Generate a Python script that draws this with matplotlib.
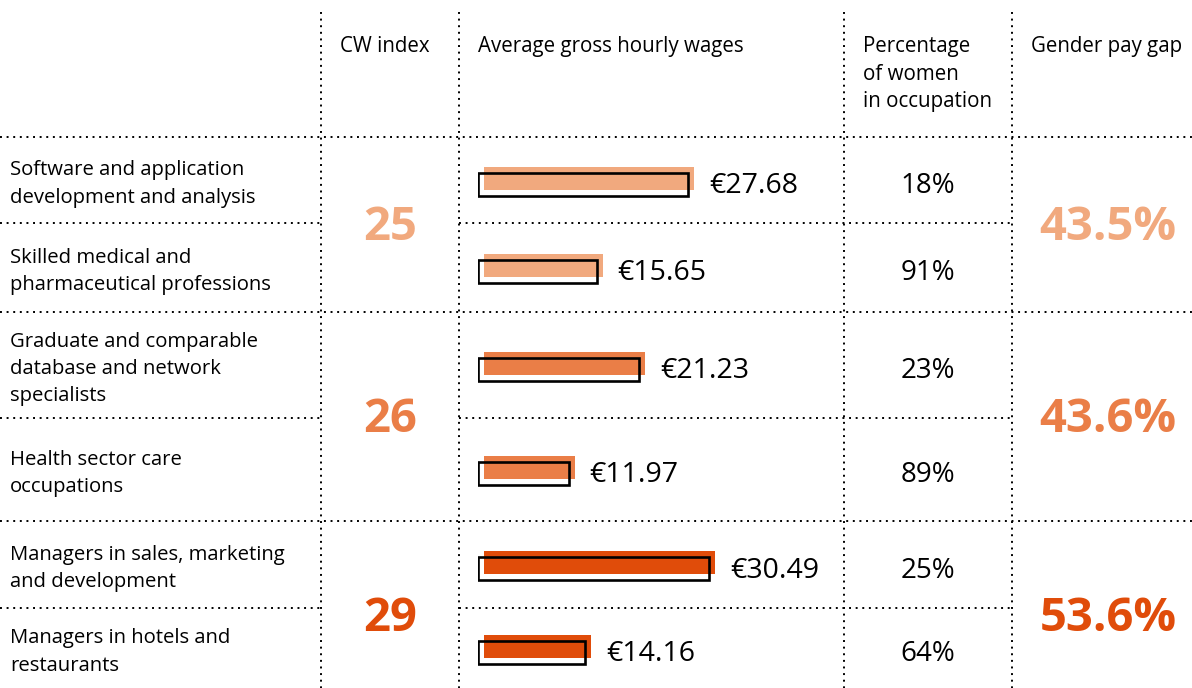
import matplotlib.pyplot as plt

plt.rcParams['font.family'] = ['Open Sans', 'DejaVu Sans']

# data
occupations = [
    "Software and application\ndevelopment and analysis",
    "Skilled medical and\npharmaceutical professions",
    "Graduate and comparable\ndatabase and network\nspecialists",
    "Health sector care\noccupations",
    "Managers in sales, marketing\nand development",
    "Managers in hotels and\nrestaurants",
]
wages = [27.68, 15.65, 21.23, 11.97, 30.49, 14.16]
women_share = [18, 91, 23, 89, 25, 64]
cw_index = [25, 26, 29]
pay_gap = [43.5, 43.6, 53.6]
group_colors = ["#F1A97E", "#EA7E47", "#E04C0A"]
headers = ["CW index", "Average gross hourly wages",
           "Percentage\nof women\nin occupation", "Gender pay gap"]

W, H = 1192, 688
fig = plt.figure(figsize=(W / 100, H / 100), dpi=100)
ax = fig.add_axes([0, 0, 1, 1])
ax.set_xlim(0, W)
ax.set_ylim(H, 0)
ax.axis('off')

# layout (pixel space)
row_edges = [137, 223, 312, 418, 521, 608, 700]
col_edges = [321, 459, 844, 1012]
dot = dict(color='black', lw=1.4, linestyle=(0, (1, 2.4)))

for x in col_edges:
    ax.plot([x, x], [12, H], **dot)
for i, y in enumerate(row_edges[:-1]):
    if i % 2 == 0:
        ax.plot([0, W], [y, y], **dot)
    else:
        ax.plot([0, col_edges[0]], [y, y], **dot)
        ax.plot([col_edges[1], col_edges[3]], [y, y], **dot)

# headers
hx = [c + 19 for c in col_edges]
for x, t in zip(hx, headers):
    ax.text(x, 36, t, ha='left', va='top', fontsize=14.8, linespacing=1.42,
            color='black')

row_c = [(row_edges[i] + row_edges[i + 1]) / 2 for i in range(6)]
row_c[-1] = (608 + 688) / 2

for i, lab in enumerate(occupations):
    ax.text(10, row_c[i] + 4, lab, ha='left', va='center', fontsize=14.6,
            linespacing=1.5, color='black')
    ax.text((col_edges[2] + col_edges[3]) / 2, row_c[i] + 6,
            f"{women_share[i]}%", ha='center', va='center', fontsize=20,
            color='black')

for g in range(3):
    top, bot = row_edges[2 * g], row_edges[2 * g + 2]
    yc = (top + bot) / 2 + (8 if g == 2 else 3)
    ax.text((col_edges[0] + col_edges[1]) / 2, yc, str(cw_index[g]),
            ha='center', va='center', fontsize=34, fontweight='bold',
            color=group_colors[g])
    ax.text(1108, yc, f"{pay_gap[g]:.1f}%", ha='center', va='center',
            fontsize=34, fontweight='bold', color=group_colors[g])

# bars: euro scale on their own axes
px_per_euro = 7.59
x0 = 478
euro_max = 40
bx = fig.add_axes([x0 / W, 0, euro_max * px_per_euro / W, 1])
bx.set_xlim(0, euro_max)
bx.set_ylim(H, 0)
bx.axis('off')
shift = 6 / px_per_euro
for i, w in enumerate(wages):
    c = group_colors[i // 2]
    bx.barh(row_c[i] - 2, w, left=shift, height=23, color=c, zorder=2)
    bx.barh(row_c[i] + 4, w, height=23, fill=False, edgecolor='black',
            linewidth=1.9, zorder=3)
    bx.annotate(f"€{w:.2f}", xy=(w, row_c[i] + 6), xytext=(15, 0),
                textcoords='offset points', ha='left', va='center',
                fontsize=20.5, color='black', annotation_clip=False)

fig.savefig('out.png', dpi=100)
